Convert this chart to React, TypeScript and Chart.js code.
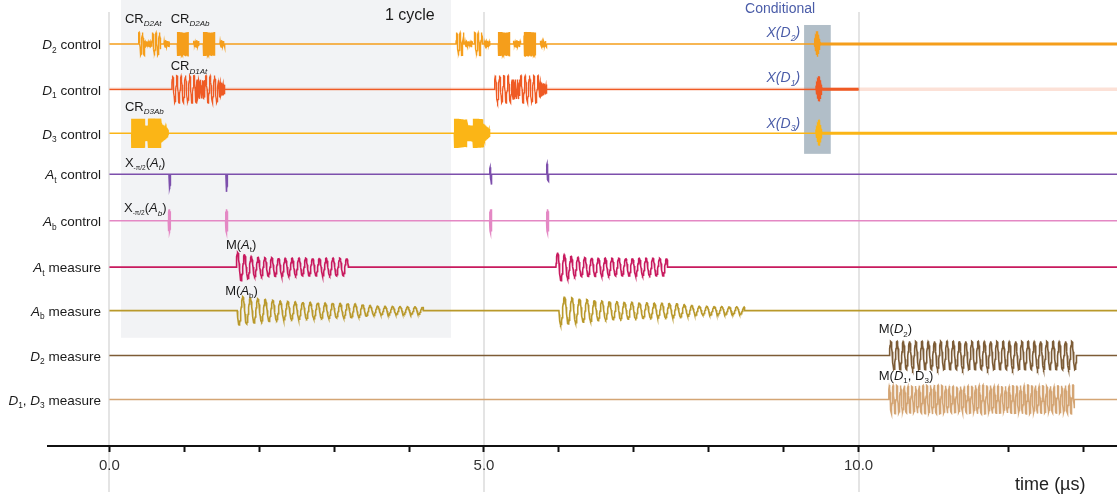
import React, { useEffect, useRef } from 'react';
import { Chart, registerables } from 'chart.js';

Chart.register(...registerables);

type Pulse = number[]; // [start µs, end µs, cycles per µs, ...amplitude envelope]
type Part = { t: string; i?: boolean; sub?: number };

const FAMILY = '"Liberation Sans", Arial, Helvetica, sans-serif';

// ---------------- data ----------------
const ROW_LEVELS = [9, 7.98, 6.99, 6.07, 5.02, 3.98, 3.0, 1.99, 1];

const ROW_LABELS: Part[][] = [
  [{ t: 'D', i: true }, { t: '2', sub: 0.62 }, { t: ' control' }],
  [{ t: 'D', i: true }, { t: '1', sub: 0.62 }, { t: ' control' }],
  [{ t: 'D', i: true }, { t: '3', sub: 0.62 }, { t: ' control' }],
  [{ t: 'A', i: true }, { t: 't', sub: 0.62 }, { t: ' control' }],
  [{ t: 'A', i: true }, { t: 'b', sub: 0.62 }, { t: ' control' }],
  [{ t: 'A', i: true }, { t: 't', sub: 0.62 }, { t: ' measure' }],
  [{ t: 'A', i: true }, { t: 'b', sub: 0.62 }, { t: ' measure' }],
  [{ t: 'D', i: true }, { t: '2', sub: 0.62 }, { t: ' measure' }],
  [{ t: 'D', i: true }, { t: '1', sub: 0.62 }, { t: ', ' }, { t: 'D', i: true }, { t: '3', sub: 0.62 }, { t: ' measure' }],
];

const TRACK_COLORS = ['#f59e1b', '#ef5a24', '#fbb516', '#7d4fac', '#e488c4', '#c81a5e', '#b9992b', '#7d5c36', '#d4a574'];
const TRACK_WIDTHS = [1.4, 1.3, 1.4, 1.6, 1.5, 1.6, 1.6, 1.6, 1.5];

const TIME_TICKS = [0, 1, 2, 3, 4, 5, 6, 7, 8, 9, 10, 11, 12, 13];
const LABELED_TICKS = [0, 5, 10];
const GRID_TIMES = [0, 5, 10];

const D2_CONTROL: Pulse[] = [
  [0.385, 0.47, 22, 0.26],
  [0.47, 0.567, 45, 0.06],
  [0.567, 0.684, 22, 0.26],
  [0.728, 0.798, 45, 0.07],
  [0.905, 1.052, 200, 0.27],
  [1.119, 1.195, 45, 0.07],
  [1.252, 1.409, 200, 0.27],
  [1.475, 1.542, 45, 0.07],
  [4.626, 4.733, 22, 0.26],
  [4.745, 4.844, 45, 0.06],
  [4.867, 4.977, 22, 0.26],
  [5.0, 5.08, 45, 0.07],
  [5.19, 5.347, 200, 0.27],
  [5.39, 5.49, 45, 0.07],
  [5.534, 5.69, 200, 0.27],
  [5.748, 5.837, 45, 0.07],
  [9.41, 9.49, 150, 0.02, 0.18, 0.32, 0.18, 0.02],
];

const D1_CONTROL: Pulse[] = [
  [0.83, 1.164, 17.5, 0.31],
  [1.164, 1.275, 42, 0.22],
  [1.275, 1.453, 17.5, 0.31],
  [1.453, 1.542, 50, 0.2, 0.1],
  [5.138, 5.37, 17.5, 0.31],
  [5.37, 5.48, 42, 0.22],
  [5.48, 5.725, 17.5, 0.31],
  [5.725, 5.84, 50, 0.2, 0.1],
  [9.43, 9.515, 150, 0.02, 0.2, 0.31, 0.2, 0.02],
];

const D3_CONTROL: Pulse[] = [
  [0.296, 0.47, 150, 0.33],
  [0.47, 0.52, 80, 0.18],
  [0.52, 0.69, 150, 0.33],
  [0.69, 0.785, 80, 0.22, 0.08],
  [4.603, 4.77, 150, 0.33],
  [4.77, 4.857, 80, 0.18],
  [4.857, 4.99, 150, 0.33],
  [4.99, 5.08, 80, 0.22, 0.08],
  [9.43, 9.515, 150, 0.02, 0.18, 0.32, 0.18, 0.02],
];

const AT_CONTROL: Pulse[] = [
  [0.795, 0.815, 25, -0.34],
  [1.555, 1.575, 25, -0.4],
  [5.075, 5.105, 33, 0.12, 0.27],
  [5.835, 5.865, 33, 0.27, 0.12],
];

const AB_CONTROL: Pulse[] = [
  [0.785, 0.815, 120, 0.2, 0.28, 0.2],
  [1.55, 1.58, 120, 0.2, 0.28, 0.2],
  [5.075, 5.105, 120, 0.2, 0.28, 0.2],
  [5.835, 5.865, 120, 0.2, 0.28, 0.2],
];

const AT_MEASURE: Pulse[] = [
  [1.69, 3.19, 11, 0.34, 0.22, 0.21, 0.2, 0.2, 0.2, 0.2],
  [5.96, 7.45, 11, 0.34, 0.22, 0.21, 0.2, 0.2, 0.2, 0.2],
];

const AB_MEASURE: Pulse[] = [
  [1.706, 4.19, 10, -0.33, -0.26, -0.21, -0.19, -0.17, -0.16, -0.1, -0.09, -0.08],
  [6.0, 8.48, 10, -0.33, -0.26, -0.21, -0.19, -0.17, -0.16, -0.1, -0.09, -0.08],
];

const D2_MEASURE: Pulse[] = [[10.41, 12.91, 12, 0.32]];

const D13_MEASURE: Pulse[] = [[10.4, 12.88, 20, 0.33, 0.3, 0.33, 0.29, 0.33, 0.3, 0.33, 0.3, 0.33]];

const TRACK_PULSES = [D2_CONTROL, D1_CONTROL, D3_CONTROL, AT_CONTROL, AB_CONTROL, AT_MEASURE, AB_MEASURE, D2_MEASURE, D13_MEASURE];
const TRACK_START = 0;
const TRACK_ENDS = [13.45, 10.0, 13.45, 13.45, 13.45, 13.45, 13.45, 13.45, 13.45];

// after the conditional X gates the line is held (thicker)
const HOLD_ROWS = [0, 1, 2];
const HOLD_SPANS = [
  [9.49, 13.45],
  [9.515, 10.0],
  [9.515, 13.45],
];

const CYCLE_BOX = { t0: 0.155, t1: 4.56, v0: 2.39 };
const COND_BOX = { t0: 9.273, t1: 9.629, v0: 6.528, v1: 9.427 };

const X_MIN = -0.82;
const X_MAX = 13.45;
const Y_MIN = -0.045;
const Y_MAX = 9.989;

type Note = { t: number; v: number; parts: Part[]; size: number; color: string; align: 'left' | 'right' };
const BLUE = '#4a5ca8';
const DARK = '#1a1a1a';
const NOTES: Note[] = [
  { t: 3.678, v: 9.629, parts: [{ t: '1 cycle' }], size: 16, color: DARK, align: 'left' },
  { t: 0.207, v: 9.562, parts: [{ t: 'CR' }, { t: 'D2At', i: true, sub: 0.62 }], size: 13, color: DARK, align: 'left' },
  { t: 0.817, v: 9.562, parts: [{ t: 'CR' }, { t: 'D2Ab', i: true, sub: 0.62 }], size: 13, color: DARK, align: 'left' },
  { t: 0.817, v: 8.49, parts: [{ t: 'CR' }, { t: 'D1At', i: true, sub: 0.62 }], size: 13, color: DARK, align: 'left' },
  { t: 0.207, v: 7.569, parts: [{ t: 'CR' }, { t: 'D3Ab', i: true, sub: 0.62 }], size: 13, color: DARK, align: 'left' },
  { t: 0.207, v: 6.319, parts: [{ t: 'X' }, { t: '-π/2', sub: 0.5 }, { t: '(' }, { t: 'A', i: true }, { t: 't', i: true, sub: 0.62 }, { t: ')' }], size: 13, color: DARK, align: 'left' },
  { t: 0.194, v: 5.292, parts: [{ t: 'X' }, { t: '-π/2', sub: 0.5 }, { t: '(' }, { t: 'A', i: true }, { t: 'b', i: true, sub: 0.62 }, { t: ')' }], size: 13, color: DARK, align: 'left' },
  { t: 1.555, v: 4.467, parts: [{ t: 'M(' }, { t: 'A', i: true }, { t: 't', sub: 0.62 }, { t: ')' }], size: 13, color: DARK, align: 'left' },
  { t: 1.546, v: 3.434, parts: [{ t: 'M(' }, { t: 'A', i: true }, { t: 'b', sub: 0.62 }, { t: ')' }], size: 13, color: DARK, align: 'left' },
  { t: 10.27, v: 2.573, parts: [{ t: 'M(' }, { t: 'D', i: true }, { t: '2', sub: 0.62 }, { t: ')' }], size: 13, color: DARK, align: 'left' },
  { t: 10.27, v: 1.524, parts: [{ t: 'M(' }, { t: 'D', i: true }, { t: '1', sub: 0.62 }, { t: ', D' }, { t: '3', sub: 0.62 }, { t: ')' }], size: 13, color: DARK, align: 'left' },
  { t: 8.485, v: 9.786, parts: [{ t: 'Conditional' }], size: 14, color: BLUE, align: 'left' },
  { t: 9.22, v: 9.24, parts: [{ t: 'X(D', i: true }, { t: '2', i: true, sub: 0.62 }, { t: ')', i: true }], size: 14, color: BLUE, align: 'right' },
  { t: 9.22, v: 8.229, parts: [{ t: 'X(D', i: true }, { t: '1', i: true, sub: 0.62 }, { t: ')', i: true }], size: 14, color: BLUE, align: 'right' },
  { t: 9.22, v: 7.202, parts: [{ t: 'X(D', i: true }, { t: '3', i: true, sub: 0.62 }, { t: ')', i: true }], size: 14, color: BLUE, align: 'right' },
];
const ROW_LABEL_T = -0.113;
const AXIS_TITLE = 'time (µs)';
const AXIS_TITLE_T = 12.09;

// ---------------- helpers ----------------
function envAt(env: number[], frac: number): number {
  if (env.length === 1) return env[0];
  const pos = frac * (env.length - 1);
  const i = Math.min(env.length - 2, Math.floor(pos));
  const f = pos - i;
  return env[i] * (1 - f) + env[i + 1] * f;
}

function buildTrack(level: number, from: number, to: number, pulses: Pulse[]) {
  const pts: { x: number; y: number }[] = [{ x: from, y: level }];
  const sorted = [...pulses].sort((a, b) => a[0] - b[0]);
  for (const p of sorted) {
    const [s, e, f, ...env] = p;
    if (s >= to) continue;
    pts.push({ x: s, y: level });
    const perCycle = f < 40 ? 24 : 8;
    const n = Math.max(10, Math.ceil((e - s) * f * perCycle));
    for (let k = 1; k <= n; k++) {
      const frac = k / n;
      const t = s + (e - s) * frac;
      pts.push({ x: t, y: level + envAt(env, frac) * Math.sin(2 * Math.PI * f * (t - s)) });
    }
    pts.push({ x: e, y: level });
  }
  pts.push({ x: to, y: level });
  return pts;
}

function drawRich(ctx: CanvasRenderingContext2D, parts: Part[], x: number, y: number, size: number, color: string, align: 'left' | 'right') {
  const fontOf = (p: Part) => `${p.i ? 'italic ' : ''}${p.sub ? size * p.sub : size}px ${FAMILY}`;
  let total = 0;
  const widths = parts.map((p) => {
    ctx.font = fontOf(p);
    const w = ctx.measureText(p.t).width;
    total += w;
    return w;
  });
  let cx = align === 'right' ? x - total : x;
  ctx.fillStyle = color;
  ctx.textBaseline = 'middle';
  ctx.textAlign = 'left';
  parts.forEach((p, k) => {
    ctx.font = fontOf(p);
    ctx.fillText(p.t, cx, p.sub ? y + size * 0.36 : y);
    cx += widths[k];
  });
}

const decorPlugin = {
  id: 'decor',
  beforeDraw(chart: any) {
    const { ctx, chartArea } = chart;
    const xs = chart.scales.x;
    const ys = chart.scales.y;
    ctx.save();
    // 1 cycle shading
    ctx.fillStyle = '#f2f3f5';
    const bx0 = xs.getPixelForValue(CYCLE_BOX.t0);
    const bx1 = xs.getPixelForValue(CYCLE_BOX.t1);
    ctx.fillRect(bx0, chartArea.top, bx1 - bx0, ys.getPixelForValue(CYCLE_BOX.v0) - chartArea.top);
    // grid lines
    ctx.strokeStyle = '#e4e4e4';
    ctx.lineWidth = 2;
    for (const g of GRID_TIMES) {
      const px = Math.round(xs.getPixelForValue(g));
      ctx.beginPath();
      ctx.moveTo(px, chartArea.top + 12);
      ctx.lineTo(px, chartArea.bottom + 46);
      ctx.stroke();
    }
    // conditional box
    ctx.fillStyle = '#b1bec8';
    const cx0 = xs.getPixelForValue(COND_BOX.t0);
    const cx1 = xs.getPixelForValue(COND_BOX.t1);
    const cy0 = ys.getPixelForValue(COND_BOX.v1);
    const cy1 = ys.getPixelForValue(COND_BOX.v0);
    ctx.fillRect(cx0, cy0, cx1 - cx0, cy1 - cy0);
    ctx.restore();
  },
  afterDatasetsDraw(chart: any) {
    const { ctx, chartArea } = chart;
    const xs = chart.scales.x;
    const ys = chart.scales.y;
    ctx.save();
    ROW_LABELS.forEach((parts, k) => {
      drawRich(ctx, parts, xs.getPixelForValue(ROW_LABEL_T), ys.getPixelForValue(ROW_LEVELS[k]) + 1.5, 13.5, DARK, 'right');
    });
    NOTES.forEach((n) => {
      drawRich(ctx, n.parts, xs.getPixelForValue(n.t), ys.getPixelForValue(n.v), n.size, n.color, n.align);
    });
    drawRich(ctx, [{ t: AXIS_TITLE }], xs.getPixelForValue(AXIS_TITLE_T), chartArea.bottom + 39, 18, '#222', 'left');
    ctx.restore();
  },
};

export default function App() {
  const ref = useRef<HTMLCanvasElement | null>(null);

  useEffect(() => {
    document.body.style.margin = '0';
    const canvas = ref.current;
    if (!canvas) return;

    const datasets: any[] = [];
    // faint halo under the D1 control line
    datasets.push({
      data: [
        { x: TRACK_START, y: ROW_LEVELS[1] },
        { x: X_MAX, y: ROW_LEVELS[1] },
      ],
      borderColor: 'rgba(239,90,36,0.18)',
      borderWidth: 3.5,
      pointRadius: 0,
      order: 10,
    });
    TRACK_PULSES.forEach((pulses, k) => {
      datasets.push({
        data: buildTrack(ROW_LEVELS[k], TRACK_START, TRACK_ENDS[k], pulses),
        borderColor: TRACK_COLORS[k],
        borderWidth: TRACK_WIDTHS[k],
        pointRadius: 0,
        tension: 0,
        order: 1,
      });
    });
    HOLD_ROWS.forEach((r, k) => {
      datasets.push({
        data: [
          { x: HOLD_SPANS[k][0], y: ROW_LEVELS[r] },
          { x: HOLD_SPANS[k][1], y: ROW_LEVELS[r] },
        ],
        borderColor: TRACK_COLORS[r],
        borderWidth: 3,
        pointRadius: 0,
        order: 0,
      });
    });

    const chart = new Chart(canvas, {
      type: 'line',
      data: { datasets },
      options: {
        responsive: false,
        animation: false,
        parsing: false,
        normalized: true,
        events: [],
        layout: { padding: { left: 48, right: 0, top: 0, bottom: 0 } },
        plugins: { legend: { display: false }, tooltip: { enabled: false } },
        scales: {
          x: {
            type: 'linear',
            min: X_MIN,
            max: X_MAX,
            afterBuildTicks: (s: any) => {
              s.ticks = TIME_TICKS.map((v) => ({ value: v }));
            },
            afterFit: (s: any) => {
              s.height = 52;
            },
            grid: { drawOnChartArea: false, drawTicks: true, tickLength: 6, tickColor: '#111', tickWidth: 2 },
            border: { display: true, color: '#111', width: 2 },
            ticks: {
              autoSkip: false,
              maxRotation: 0,
              padding: 5,
              color: '#333',
              font: { size: 15, family: FAMILY },
              callback: (v: any) => (LABELED_TICKS.includes(Number(v)) ? Number(v).toFixed(1) : ''),
            },
          },
          y: { type: 'linear', display: false, min: Y_MIN, max: Y_MAX },
        },
      },
      plugins: [decorPlugin],
    });
    return () => chart.destroy();
  }, []);

  return (
    <div style={{ width: 1117, height: 498 }}>
      <canvas ref={ref} width={1117} height={498} style={{ display: 'block' }} />
    </div>
  );
}
